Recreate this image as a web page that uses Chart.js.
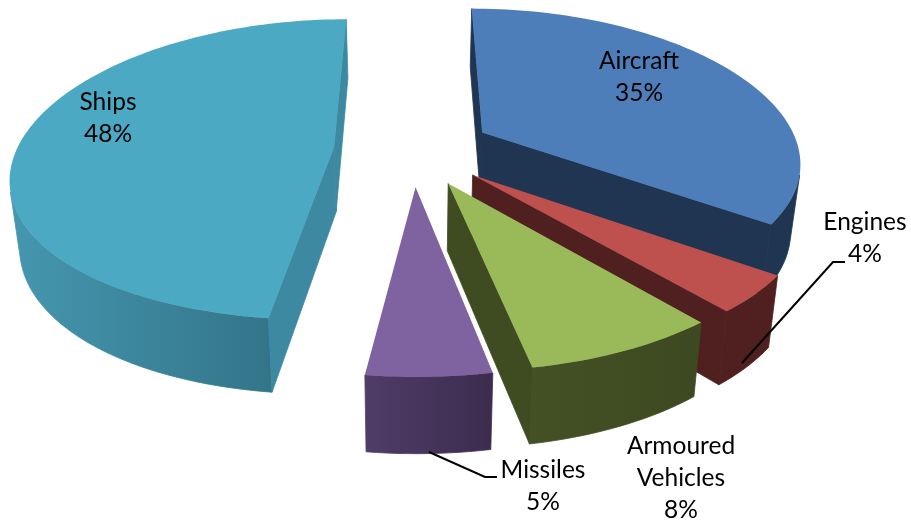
<!DOCTYPE html>
<html>
<head>
<meta charset="utf-8">
<style>
  html, body { margin: 0; padding: 0; background: #fff; }
  canvas { display: block; }
</style>
<script src="https://cdn.jsdelivr.net/npm/chart.js@4/dist/chart.umd.min.js"></script>
</head>
<body>
<canvas id="chart" width="911" height="523"></canvas>
<script>
// Exported naval and military equipment, share by category
const categories = ['Aircraft', 'Engines', 'Armoured Vehicles', 'Missiles', 'Ships'];
const shares = [35, 4, 8, 5, 48];

// Appearance of each slice
const topColors = ['#4E7EBA', '#BE504D', '#9ABA59', '#7F62A0', '#4BA9C3'];
const radialWallColors = ['#1F3552', '#4F201F', '#3F4C22', '#47365E', '#3D89A1'];
const rimWallStart = ['#1F3552', '#4F201F', '#445125', '#503C68', '#4496AE'];
const rimWallEnd = ['#1F3552', '#4F201F', '#3D4A21', '#3C2D4F', '#2E6A7D'];

// How far each slice is pulled out, as a fraction of the radius
const explode = [0.25, 0.25, 0.25, 0.25, 0.25];

// Label anchors (centre of the first text line) and leader lines
const labelAnchors = [[639, 61], [865, 222], [681, 446], [543, 470], [108, 102]];
const leaderLines = [null, [[845, 262], [833, 262], [742, 363]], null, [[497, 477], [485, 477], [429, 452]], null];

// Camera model for the tilted pie
const stretchX = 2.128, stretchY = 0.99, perspectiveX = 0.182, perspectiveY = 0.1525;
const bottomShrink = 0.975, depthBack = 59, depthSlope = 0.05;
const arcStep = Math.PI / 120;

function project(arc, px, py) {
  return [
    arc.x + stretchX * arc.outerRadius * px / (1 - perspectiveX * py),
    arc.y + stretchY * arc.outerRadius * py / (1 - perspectiveY * py)
  ];
}

function lower(arc, p) {
  return [arc.x + (p[0] - arc.x) * bottomShrink, p[1] + depthBack + depthSlope * (p[1] - 19)];
}

function polygon(ctx, pts, fill, seal) {
  ctx.beginPath();
  pts.forEach((p, i) => i ? ctx.lineTo(p[0], p[1]) : ctx.moveTo(p[0], p[1]));
  ctx.closePath();
  ctx.fillStyle = fill;
  ctx.fill();
  if (seal) {
    // A hairline in the same paint closes the joints between neighbouring walls
    ctx.strokeStyle = fill;
    ctx.lineWidth = 0.8;
    ctx.lineJoin = 'round';
    ctx.stroke();
  }
}

function faces(quad) {
  let area = 0;
  quad.forEach((p, i) => {
    const q = quad[(i + 1) % quad.length];
    area += p[0] * q[1] - q[0] * p[1];
  });
  return area < 0;
}

function drawSlice(ctx, arc, i) {
  const a0 = arc.startAngle + Math.PI / 2;
  const a1 = arc.endAngle + Math.PI / 2;
  const mid = (a0 + a1) / 2;
  const ox = explode[i] * Math.sin(mid), oy = -explode[i] * Math.cos(mid);
  const steps = Math.max(2, Math.ceil((a1 - a0) / arcStep));
  const rim = [];
  for (let s = 0; s <= steps; s++) {
    const a = a0 + (a1 - a0) * s / steps;
    rim.push(project(arc, ox + Math.sin(a), oy - Math.cos(a)));
  }
  const apex = project(arc, ox, oy);
  const rimLow = rim.map(p => lower(arc, p));
  const apexLow = lower(arc, apex);

  // Rim wall, shaded across its width; contiguous visible steps form one shape
  const xs = rimLow.map(p => p[0]);
  const shade = ctx.createLinearGradient(Math.min(...xs), 0, Math.max(...xs), 0);
  shade.addColorStop(0, rimWallStart[i]);
  shade.addColorStop(1, rimWallEnd[i]);
  let run = null;
  const flush = (end) => {
    if (run === null) return;
    polygon(ctx, [...rim.slice(run, end + 1), ...rimLow.slice(run, end + 1).reverse()], shade, true);
    run = null;
  };
  for (let s = 0; s < steps; s++) {
    if (faces([rim[s], rim[s + 1], rimLow[s + 1], rimLow[s]])) {
      if (run === null) run = s;
    } else {
      flush(s);
    }
  }
  flush(steps);

  // Flat walls along both cut edges
  const first = [apex, rim[0], rimLow[0], apexLow];
  const last = [rim[steps], apex, apexLow, rimLow[steps]];
  if (faces(first)) polygon(ctx, first, radialWallColors[i], true);
  if (faces(last)) polygon(ctx, last, radialWallColors[i], true);

  // Top face
  polygon(ctx, [apex, ...rim], topColors[i], false);
}

const pie3d = {
  id: 'pie3d',
  beforeDatasetDraw(chart, args) {
    const ctx = chart.ctx;
    ctx.save();
    args.meta.data.forEach((arc, i) => drawSlice(ctx, arc, i));
    ctx.restore();
    return false;
  },
  afterDraw(chart) {
    const ctx = chart.ctx;
    const lineHeight = 32;
    ctx.save();
    ctx.strokeStyle = '#000';
    ctx.lineWidth = 2;
    leaderLines.forEach(line => {
      if (!line) return;
      ctx.beginPath();
      line.forEach((p, k) => k ? ctx.lineTo(p[0], p[1]) : ctx.moveTo(p[0], p[1]));
      ctx.stroke();
    });
    ctx.fillStyle = '#000';
    ctx.font = '24.5px Lato, sans-serif';
    ctx.textAlign = 'center';
    ctx.textBaseline = 'middle';
    chart.data.labels.forEach((name, i) => {
      const lines = [...name.split(' '), chart.data.datasets[0].data[i] + '%'];
      lines.forEach((t, k) => ctx.fillText(t, labelAnchors[i][0], labelAnchors[i][1] + k * lineHeight));
    });
    ctx.restore();
  }
};

new Chart(document.getElementById('chart'), {
  type: 'pie',
  data: {
    labels: categories,
    datasets: [{ data: shares, borderWidth: 0, backgroundColor: topColors }]
  },
  options: {
    responsive: false,
    animation: false,
    events: [],
    layout: { padding: { right: 85, bottom: 225 } },
    plugins: { legend: { display: false }, tooltip: { enabled: false } }
  },
  plugins: [pie3d]
});
</script>
</body>
</html>
